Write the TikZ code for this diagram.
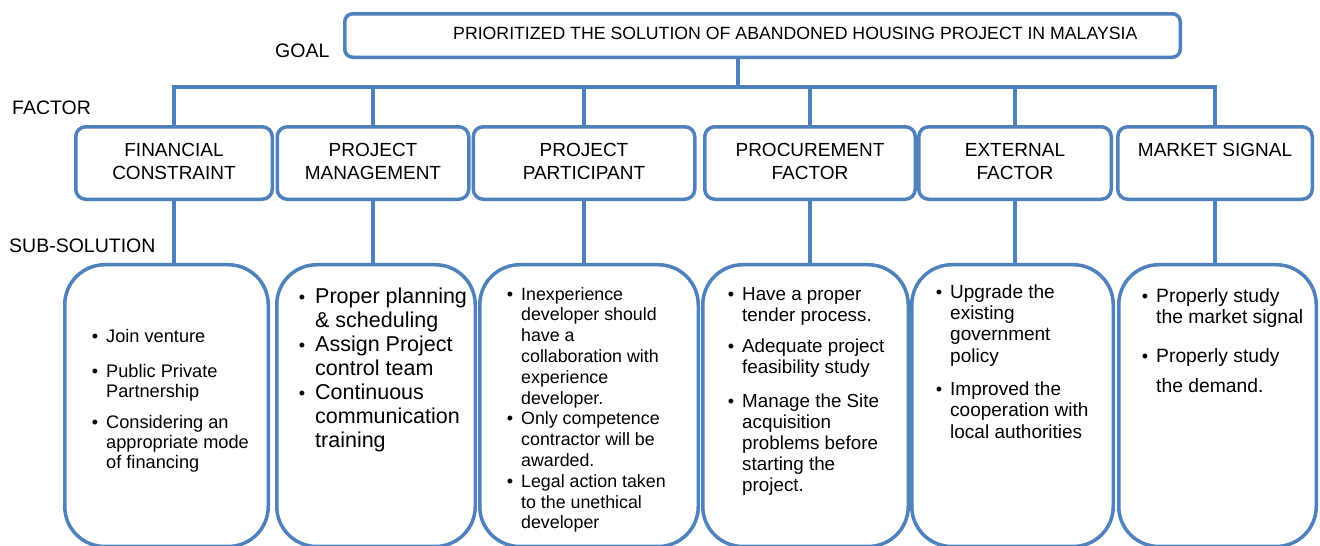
\documentclass[tikz,border=0pt]{standalone}
\usepackage{fontspec}
\setmainfont{Liberation Sans}
\definecolor{bleu}{RGB}{79,129,189}
% puce placee a gauche du texte
\newcommand{\puce}[1][8pt]{\llap{\fontsize{18}{18}\selectfont\textbullet\hspace{#1}}}

\begin{document}
\begin{tikzpicture}[x=1pt, y=-1pt]
	\tikzset{cadre/.style={draw=bleu, line width=3.5pt, fill=white, rounded corners=10pt, inner sep=0pt},
		facteur/.style={cadre, minimum height=72.5pt, align=center, font=\fontsize{19}{23}\selectfont},
		solution/.style={cadre, rounded corners=40pt, minimum height=281.75pt},
		titre/.style={anchor=base west, inner sep=0pt, font=\fontsize{19.5}{23}\selectfont},
		texte/.style={anchor=north west, inner sep=0pt, align=left},
		lien/.style={draw=bleu, line width=3.5pt}};
	\useasboundingbox (0,0) rectangle (1320,546);

	% niveaux
	\node[titre] (lgoal) at (275,57) {GOAL};
	\node[titre] (lfactor) at (12,114) {FACTOR};
	\node[titre] (lsub) at (9,252) {SUB-SOLUTION};

	% but
	\node[cadre, rounded corners=8pt, minimum width=835.5pt, minimum height=43.5pt] (goal) at (762.5,35.5) {};
	\node[anchor=base west, inner sep=0pt, font=\fontsize{17.7}{21}\selectfont] (goaltxt) at (453,39) {PRIORITIZED THE SOLUTION OF ABANDONED HOUSING PROJECT IN MALAYSIA};

	% facteurs
	\node[facteur, minimum width=196.5pt] (financier) at (174,163) {\strut FINANCIAL\\CONSTRAINT\strut};
	\node[facteur, minimum width=191.5pt] (gestion) at (373,163) {\strut PROJECT\\MANAGEMENT\strut};
	\node[facteur, minimum width=221.5pt] (acteurs) at (584,163) {\strut PROJECT\\PARTICIPANT\strut};
	\node[facteur, minimum width=210.5pt] (achat) at (810,163) {\strut PROCUREMENT\\FACTOR\strut};
	\node[facteur, minimum width=192.5pt] (externe) at (1015,163) {\strut EXTERNAL\\FACTOR\strut};
	\node[facteur, minimum width=194.5pt] (marche) at (1215,163) {\strut MARKET SIGNAL\\\strut};

	% sous-solutions
	\node[solution, minimum width=203.5pt] (sol1) at (166.5,405.6) {};
	\node[solution, minimum width=198.5pt] (sol2) at (376,405.6) {};
	\node[solution, minimum width=218.5pt] (sol3) at (589,405.6) {};
	\node[solution, minimum width=205.5pt] (sol4) at (805.5,405.6) {};
	\node[solution, minimum width=201.5pt] (sol5) at (1012.5,405.6) {};
	\node[solution, minimum width=197.5pt] (sol6) at (1217.5,405.6) {};

	% liaisons
	\coordinate (bus) at (738,87);
	\draw[lien] (goal.south -| bus) -- (bus);
	\draw[lien] (financier.north) |- (bus) -| (marche.north);
	\foreach \f in {gestion,acteurs,achat,externe}
		\draw[lien] (\f.north) -- (\f.north |- bus);
	\draw[lien] (financier.south) -- (financier.south |- sol1.north);
	\draw[lien] (gestion.south) -- (gestion.south |- sol2.north);
	\draw[lien] (acteurs.south) -- (acteurs.south |- sol3.north);
	\draw[lien] (achat.south) -- (achat.south |- sol4.north);
	\draw[lien] (externe.south) -- (externe.south |- sol5.north);
	\draw[lien] (marche.south) -- (marche.south |- sol6.north);

	% textes des sous-solutions
	\node[texte, font=\fontsize{18.2}{20}\selectfont] (txt1) at (106,328) {\strut\puce Join venture\\[15pt]\puce Public Private\\Partnership\\[11pt]\puce Considering an\\appropriate mode\\of financing};
	\node[texte, font=\fontsize{21.5}{24}\selectfont] (txt2) at (315,286.2) {\strut\puce[10pt]Proper planning\\\& scheduling\\\puce[10pt]Assign Project\\control team\\\puce[10pt]Continuous\\communication\\training};
	\node[texte, font=\fontsize{17.8}{20.8}\selectfont] (txt3) at (521,285.4) {\strut\puce Inexperience\\developer should\\have a\\collaboration with\\experience\\developer.\\\puce Only competence\\contractor will be\\awarded.\\\puce Legal action taken\\to the unethical\\developer};
	\node[texte, font=\fontsize{18.8}{21}\selectfont] (txt4) at (742,285.3) {\strut\puce Have a proper\\tender process.\\[10pt]\puce Adequate project\\feasibility study\\[13pt]\puce Manage the Site\\acquisition\\problems before\\starting the\\project.};
	\node[texte, font=\fontsize{19}{21.3}\selectfont] (txt5) at (950,283.1) {\strut\puce Upgrade the\\existing\\government\\policy\\[12pt]\puce Improved the\\cooperation with\\local authorities};
	\node[texte, font=\fontsize{19.3}{21}\selectfont] (txt6) at (1156,287.3) {\strut\puce Properly study\\the market signal\\[18pt]\puce Properly study\\[9pt]the demand.};
\end{tikzpicture}
\end{document}
